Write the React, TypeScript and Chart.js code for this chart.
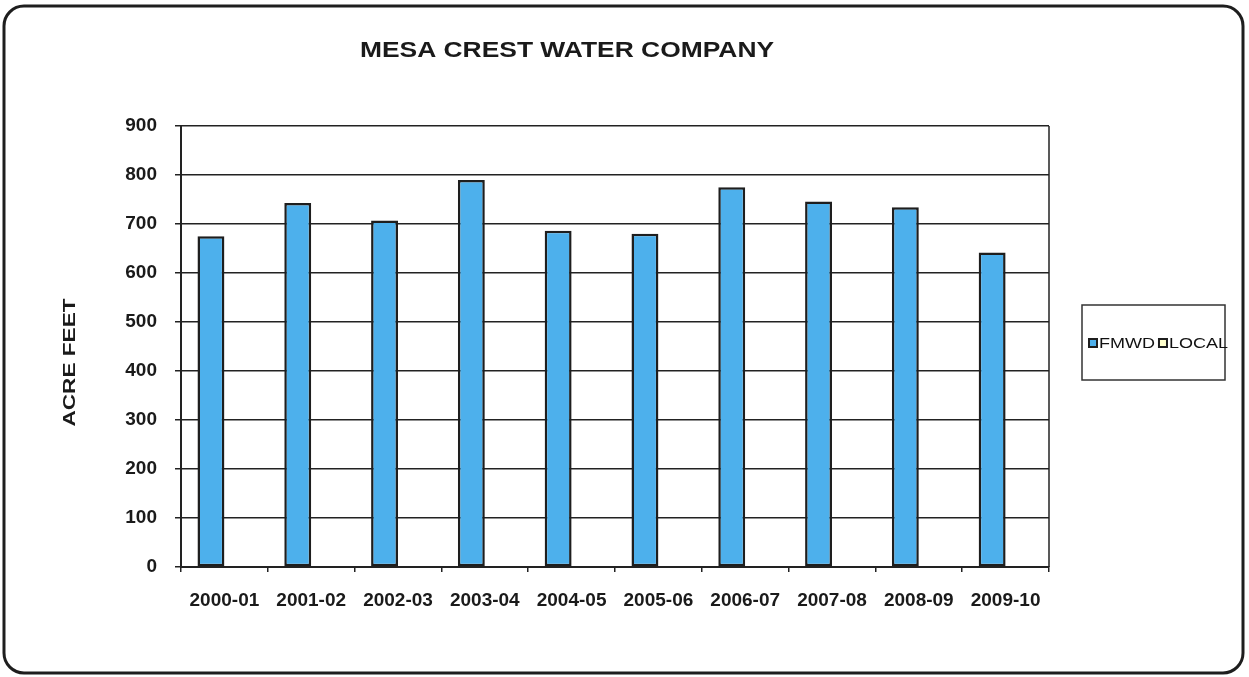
import { useEffect, useRef } from 'react';
import { Chart, registerables } from 'chart.js';

Chart.register(...registerables);

const FONT = '"Liberation Sans", Arial, sans-serif';
const TITLE = 'MESA CREST WATER COMPANY';
const Y_TITLE = 'ACRE FEET';

const categories = ['2000-01', '2001-02', '2002-03', '2003-04', '2004-05', '2005-06', '2006-07', '2007-08', '2008-09', '2009-10'];
const fmwdValues = [675, 743, 707, 790, 686, 680, 775, 746, 734, 642];
const localValues = [0, 0, 0, 0, 0, 0, 0, 0, 0, 0];
const seriesNames = ['FMWD', 'LOCAL'];
const seriesColors = ['#4db0ec', '#ffffcc'];
const yMin = 0;
const yMax = 900;
const yStep = 100;

const decorPlugin = {
  id: 'decor',
  beforeDraw(chart: any) {
    const ctx = chart.ctx;
    ctx.save();
    ctx.fillStyle = '#ffffff';
    ctx.fillRect(0, 0, chart.width, chart.height);
    ctx.strokeStyle = '#1e1e1e';
    ctx.lineWidth = 3;
    ctx.beginPath();
    (ctx as any).roundRect(4, 6, 1239, 667, 20);
    ctx.stroke();
    ctx.restore();
  },
  afterDraw(chart: any) {
    const ctx = chart.ctx;
    const a = chart.chartArea;
    ctx.save();
    // plot area right border
    ctx.strokeStyle = '#222222';
    ctx.lineWidth = 1.5;
    ctx.beginPath();
    ctx.moveTo(a.right, a.top);
    ctx.lineTo(a.right, a.bottom);
    ctx.stroke();

    ctx.fillStyle = '#1a1a1a';
    // title
    ctx.save();
    ctx.font = `bold 22px ${FONT}`;
    ctx.textAlign = 'center';
    ctx.textBaseline = 'middle';
    ctx.translate(567, 51);
    ctx.scale(1.2, 1);
    ctx.fillText(TITLE, 0, 0);
    ctx.restore();

    // y title
    ctx.save();
    ctx.font = `bold 17px ${FONT}`;
    ctx.textAlign = 'center';
    ctx.textBaseline = 'middle';
    ctx.translate(a.left - 111, (a.top + a.bottom) / 2 + 16);
    ctx.rotate(-Math.PI / 2);
    ctx.scale(1.33, 1);
    ctx.fillText(Y_TITLE, 0, 0);
    ctx.restore();

    // legend
    const bx = 1082, by = 305, bw = 143, bh = 75;
    ctx.strokeStyle = '#333333';
    ctx.lineWidth = 1.5;
    ctx.strokeRect(bx, by, bw, bh);
    const cy = by + 38;
    let x = bx + 7;
    ctx.font = `15px ${FONT}`;
    ctx.textBaseline = 'middle';
    ctx.textAlign = 'left';
    chart.data.datasets.forEach((ds: any) => {
      ctx.fillStyle = ds.backgroundColor;
      ctx.fillRect(x, cy - 4, 8, 8);
      ctx.strokeStyle = '#1e1e1e';
      ctx.lineWidth = 2;
      ctx.strokeRect(x, cy - 4, 8, 8);
      x += 10;
      ctx.fillStyle = '#111111';
      ctx.save();
      ctx.translate(x, cy + 1);
      ctx.scale(1.2, 1);
      ctx.fillText(ds.label, 0, 0);
      ctx.restore();
      x += ctx.measureText(ds.label).width * 1.2 + 4;
    });
    ctx.restore();
  },
};

export default function App() {
  const ref = useRef<HTMLCanvasElement>(null);
  useEffect(() => {
    if (!ref.current) return;
    const chart = new Chart(ref.current, {
      type: 'bar',
      data: {
        labels: categories,
        datasets: [
          {
            label: seriesNames[0],
            data: fmwdValues,
            backgroundColor: seriesColors[0],
            borderColor: '#1e1e1e',
            borderWidth: 2.5,
            borderSkipped: false,
            barPercentage: 1,
            categoryPercentage: 0.62,
          },
          {
            label: seriesNames[1],
            data: localValues,
            backgroundColor: seriesColors[1],
            borderColor: '#1e1e1e',
            borderWidth: 0,
            barPercentage: 1,
            categoryPercentage: 0.62,
          },
        ],
      },
      options: {
        responsive: false,
        animation: false,
        layout: { padding: { left: 0, top: 126, right: 200, bottom: 0 } },
        plugins: {
          legend: { display: false },
          title: { display: false },
          tooltip: { enabled: false },
        },
        scales: {
          x: {
            afterFit: (s: any) => { s.height = 110; },
            grid: {
              display: true,
              drawOnChartArea: false,
              drawTicks: true,
              tickLength: 5,
              color: '#222222',
              lineWidth: 1.5,
              offset: true,
            },
            border: { display: true, color: '#222222', width: 2 },
            ticks: {
              color: '#1a1a1a',
              font: { family: FONT, size: 19, weight: 'bold' },
              padding: 17,
              maxRotation: 0,
              autoSkip: false,
            },
          },
          y: {
            min: yMin,
            max: yMax,
            afterFit: (s: any) => { s.width = 181; },
            grid: {
              color: '#222222',
              lineWidth: 1.5,
              drawTicks: true,
              tickLength: 6,
            },
            border: { display: true, color: '#222222', width: 2 },
            ticks: {
              stepSize: yStep,
              color: '#1a1a1a',
              font: { family: FONT, size: 19, weight: 'bold' },
              padding: 18,
            },
          },
        },
      },
      plugins: [decorPlugin],
    });
    return () => chart.destroy();
  }, []);
  return (
    <div style={{ position: 'absolute', left: 0, top: 0, width: 1249, height: 677 }}>
      <canvas ref={ref} width={1249} height={677} style={{ width: 1249, height: 677, display: 'block' }} />
    </div>
  );
}
